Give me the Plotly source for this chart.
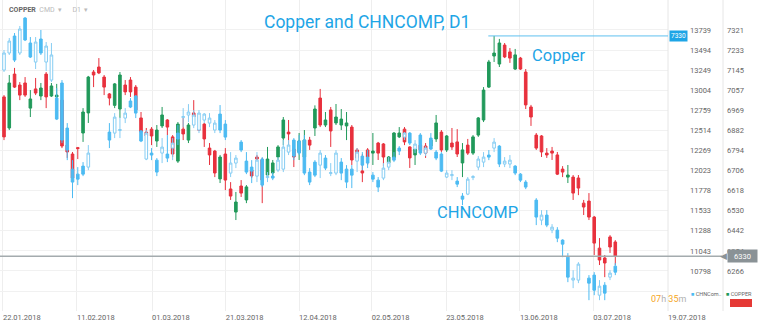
import plotly.graph_objects as go

# ---------------- data ----------------
idx = list(range(117))

chn_open = [13250, 13458, 13665, 13458, 13885, 13580, 13348, 13629, 13348, 13128,
            12908, 13092, 12542, 12041, 11980, 12078, 12066, None, None, None,
            12493, 12481, 12512, 12664, 12872, 12933, 12506, 12164, 12237, 12151,
            12237, 12225, 12298, 12481, 12670, 12701, 12579, 12518, 12640, 12603,
            12518, 12713, 12591, 11993, 12115, 12371, 12139, 12066, 11956, 12164,
            11938, 11956, 12029, 12041, 12249, 12396, 12384, 12396, 12005, 12127,
            12090, 12176, 11987, 11993, 12127, 12041, 12041, 12139, 12200, 12188,
            11968, 11907, 11932, 12066, 12188, 12298, 12432, 12481, 12286, 12457,
            12237, 12420, 12249, 12225, 11944, 11962, 11895, 11712, 11736, 11938,
            12066, 12127, 12213, 12298, 12322, 12103, 12103, 12078, 11980, 11883,
            None, 11663, 11419, 11480, 11297, 11297, 11175, 10967, 10687, 10687,
            None, 10711, 10748, 10503, 10625, 10723, 10857]
chn_high = [13495, 13641, 13702, 13788, 13897, 13653, 13653, 13739, 13592, 13580,
            13030, 13128, 12603, 12151, 12066, 12127, 12335, None, None, None,
            12603, 12725, 12676, 12786, 12908, 12945, 12518, 12518, 12298, 12176,
            12420, 12457, 12420, 12579, 12786, 12835, 12762, 12762, 12725, 12725,
            12640, 12823, 12640, 12249, 12213, 12396, 12249, 12151, 12249, 12188,
            12005, 12005, 12188, 12396, 12396, 12420, 12457, 12457, 12054, 12151,
            12274, 12213, 12115, 12274, 12176, 12090, 12090, 12298, 12249, 12274,
            12005, 11944, 12115, 12188, 12249, 12322, 12493, 12493, 12396, 12481,
            12322, 12481, 12274, 12249, 12029, 12029, 11944, 11749, 11944, 11968,
            12200, 12249, 12274, 12420, 12335, 12188, 12213, 12090, 11993, 11907,
            None, 11687, 11541, 11541, 11370, 11333, 11185, 11016, 10808, 10906,
            None, 10748, 10784, 10687, 10662, 10808, 10894]
chn_low = [13226, 13434, 13348, 13434, 13604, 13397, 13263, 13434, 13238, 13104,
           12640, 12359, 12151, 11687, 11846, 11956, 12029, None, None, None,
           12298, 12420, 12420, 12603, 12786, 12664, 12371, 12151, 12151, 11956,
           12115, 12127, 12151, 12335, 12554, 12615, 12542, 12481, 12603, 12554,
           12481, 12481, 12396, 11944, 12054, 12249, 11980, 11871, 11883, 11822,
           11883, 11907, 12005, 12005, 12213, 12151, 12213, 11968, 11846, 11944,
           11932, 12029, 11956, 11968, 11907, 11810, 11810, 12005, 12029, 12054,
           11883, 11761, 11907, 12029, 12127, 12213, 12396, 12335, 12237, 12213,
           12200, 12274, 12151, 12005, 11932, 11907, 11822, 11602, 11724, 11907,
           12029, 12066, 12151, 12249, 12066, 12066, 12054, 11968, 11883, 11797,
           None, 11358, 11358, 11333, 11260, 11150, 10967, 10662, 10589, 10650,
           None, 10442, 10503, 10442, 10442, 10687, 10748]
chn_close = [13458, 13604, 13372, 13751, 13617, 13409, 13592, 13458, 13543, 13434,
             12652, 12396, 12274, 11883, 11919, 11980, 12237, None, None, None,
             12396, 12676, 12524, 12725, 12799, 12725, 12384, 12481, 12213, 12005,
             12310, 12176, 12359, 12408, 12683, 12738, 12701, 12725, 12713, 12664,
             12603, 12518, 12432, 12115, 12176, 12274, 12005, 12017, 12151, 11846,
             11950, 11932, 12151, 12310, 12335, 12200, 12237, 11993, 11883, 11968,
             12237, 12054, 11999, 12237, 11993, 11883, 11968, 12249, 12090, 12115,
             11919, 11822, 12054, 12127, 12151, 12261, 12481, 12359, 12347, 12237,
             12298, 12286, 12176, 12017, 11993, 11974, 11858, 11675, 11919, 11950,
             12164, 12188, 12188, 12371, 12103, 12139, 12151, 11993, 11907, 11822,
             None, 11456, 11480, 11358, 11333, 11199, 11126, 10723, 10711, 10882,
             None, 10650, 10564, 10613, 10528, 10772, 10784]

cu_open = [7028, 6892, 7128, 7080, 7089, 6979, 7063, 7032, 7128, 7032,
           7028, 7014, 6817, 6778, 6806, 6870, 6958, 7137, 7159, 7115,
           7041, 6991, 6975, 7080, 7102, 7071, 6936, 6874, 6887, 6835,
           6901, 6927, 6853, 6747, 6887, 6839, 6958, 6887, 6909, 6804,
           6791, 6669, 6778, 6625, 6524, 6638, 6577, 6708, 6765, 6752,
           6686, 6695, 6765, 6848, 6874, 6800, 6787, 6765, 6839, 6892,
           7023, 6905, 6971, 6914, 6905, 6901, 6896, 6796, 6704, 6796,
           6782, 6826, 6822, 6739, 6761, 6853, 6887, 6809, 6774, 6817,
           6813, 6813, 6844, 6874, 6796, 6826, 6831, 6739, 6817, 6782,
           6861, 6927, 7071, 7207, 7172, 7255, 7225, 7150, 7198, 7137,
           6984, 6861, 6857, 6782, 6791, 6774, 6712, 6677, 6677, 6673,
           6563, 6572, 6502, 6366, 6323, 6415, 6393]
cu_high = [7036, 7124, 7155, 7093, 7115, 7058, 7111, 7089, 7137, 7089,
           7085, 7023, 6839, 6787, 6809, 6979, 7120, 7146, 7198, 7124,
           7045, 7089, 7137, 7102, 7115, 7080, 6962, 6892, 6896, 6905,
           6984, 6931, 6861, 6918, 6936, 6914, 7014, 6896, 6914, 6826,
           6796, 6774, 6804, 6655, 6612, 6664, 6642, 6717, 6774, 6761,
           6809, 6752, 6817, 6940, 6927, 6839, 6870, 6883, 6853, 6991,
           7063, 6962, 6984, 6997, 6975, 6962, 6905, 6804, 6778, 6804,
           6870, 6831, 6826, 6769, 6874, 6896, 6896, 6812, 6809, 6826,
           6826, 6848, 6949, 6883, 6861, 6892, 6887, 6826, 6844, 6861,
           6940, 7071, 7190, 7295, 7282, 7264, 7242, 7238, 7203, 7150,
           6993, 6870, 6861, 6804, 6809, 6787, 6725, 6730, 6686, 6686,
           6577, 6607, 6507, 6410, 6336, 6423, 6401]
cu_low = [6839, 6883, 7067, 7014, 7028, 6940, 7036, 7014, 6979, 7028,
          7014, 6804, 6761, 6664, 6756, 6831, 6914, 7071, 7128, 7036,
          6991, 6979, 6936, 7036, 7028, 6962, 6839, 6853, 6817, 6809,
          6892, 6861, 6765, 6739, 6839, 6826, 6936, 6879, 6809, 6730,
          6677, 6651, 6620, 6577, 6489, 6590, 6563, 6673, 6752, 6563,
          6677, 6673, 6752, 6817, 6804, 6721, 6752, 6730, 6796, 6857,
          6896, 6896, 6809, 6905, 6883, 6839, 6730, 6752, 6655, 6730,
          6730, 6752, 6725, 6734, 6752, 6848, 6817, 6717, 6730, 6787,
          6761, 6804, 6831, 6787, 6787, 6796, 6765, 6677, 6774, 6774,
          6853, 6918, 7067, 7181, 7159, 7198, 7177, 7146, 7146, 6975,
          6901, 6796, 6765, 6761, 6752, 6686, 6677, 6651, 6577, 6598,
          6511, 6489, 6336, 6292, 6239, 6345, 6292]
cu_close = [6853, 7089, 7071, 7036, 7036, 7019, 7045, 7067, 7028, 7076,
            7036, 6813, 6787, 6673, 6802, 6962, 7115, 7124, 7133, 7071,
            7023, 7085, 7124, 7050, 7050, 6971, 6874, 6857, 6857, 6883,
            6949, 6896, 6778, 6909, 6866, 6905, 6940, 6883, 6844, 6774,
            6695, 6765, 6664, 6594, 6568, 6607, 6634, 6682, 6756, 6664,
            6756, 6739, 6809, 6927, 6866, 6765, 6835, 6839, 6817, 6975,
            6905, 6927, 6879, 6940, 6931, 6914, 6752, 6761, 6695, 6765,
            6791, 6782, 6765, 6765, 6870, 6870, 6831, 6761, 6800, 6796,
            6782, 6839, 6914, 6796, 6857, 6809, 6778, 6796, 6782, 6853,
            6936, 7058, 7181, 7220, 7264, 7203, 7198, 7212, 7150, 6993,
            6940, 6804, 6787, 6774, 6782, 6690, 6699, 6686, 6607, 6629,
            6546, 6502, 6388, 6314, 6301, 6371, 6331]

date_labels = ["22.01.2018", "11.02.2018", "01.03.2018", "21.03.2018", "12.04.2018",
               "02.05.2018", "23.05.2018", "13.06.2018", "03.07.2018", "19.07.2018"]
date_pos = [-0.2, 13.85, 28.1, 42.1, 56.0, 69.8, 83.9, 97.9, 111.8, 126.0]

chn_ticks = [13739, 13494, 13249, 13004, 12759, 12514, 12269, 12023, 11778, 11533, 11288, 11043, 10798, 10553]
cu_ticks = [7321, 7233, 7145, 7057, 6969, 6882, 6794, 6706, 6618, 6530, 6442, 6354, 6266, 6178]

last_price = 6330
peak_label = "7330"

# ---------------- figure ----------------
W, H = 760, 325
PLOT_R = 668
PLOT_H = 311
FONT = "Roboto"
X_MAX = 126.0

fig = go.Figure()
fig.add_trace(go.Candlestick(
    x=idx, open=cu_open, high=cu_high, low=cu_low, close=cu_close, yaxis="y",
    increasing=dict(line=dict(color="#21995a", width=1), fillcolor="#21995a"),
    decreasing=dict(line=dict(color="#e8313d", width=1), fillcolor="#e8313d"),
    whiskerwidth=0, name="COPPER", hoverinfo="skip"))
fig.add_trace(go.Candlestick(
    x=idx, open=chn_open, high=chn_high, low=chn_low, close=chn_close, yaxis="y2",
    increasing=dict(line=dict(color="#86cdf3", width=1), fillcolor="#ffffff"),
    decreasing=dict(line=dict(color="#4dbbf2", width=1), fillcolor="#4dbbf2"),
    whiskerwidth=0, name="CHNCOMP", hoverinfo="skip"))

tickfont = dict(family=FONT, size=7.5, color="#666666")
fig.update_layout(
    width=W, height=H, margin=dict(l=0, r=0, t=0, b=H - PLOT_H, autoexpand=False),
    paper_bgcolor="white", plot_bgcolor="white", showlegend=False,
    font=dict(family=FONT),
    xaxis=dict(domain=[0, PLOT_R / W], range=[-0.76, X_MAX], tickvals=date_pos, ticktext=date_labels,
               ticklabelposition="outside right", ticks="", showgrid=True, gridcolor="#eeeeee",
               zeroline=False, showline=False, tickfont=tickfont, automargin=False,
               rangeslider=dict(visible=False)),
    yaxis=dict(range=[6090.8, 7452.3], tickvals=cu_ticks,
               ticktext=[str(v) for v in cu_ticks[:-1]] + [""],
               side="right", anchor="free", position=723 / W, showgrid=True, gridcolor="#f1f1f1",
               zeroline=False, ticks="", tickfont=tickfont, ticklabelstandoff=3, automargin=False),
    yaxis2=dict(range=[10310, 14105], tickvals=chn_ticks,
                ticktext=[str(v) for v in chn_ticks[:-1]] + [""],
                overlaying="y", side="right", anchor="x", showgrid=False, zeroline=False,
                ticks="", tickfont=tickfont, ticklabelstandoff=21, automargin=False),
)

shapes = [
    dict(type="line", xref="paper", yref="paper", x0=PLOT_R / W, x1=PLOT_R / W, y0=0, y1=1,
         line=dict(color="#e6e6e6", width=1)),
    dict(type="line", xref="paper", yref="paper", x0=723 / W, x1=723 / W, y0=0, y1=1,
         line=dict(color="#e6e6e6", width=1)),
    dict(type="line", xref="paper", yref="y", x0=0, x1=722 / W, y0=last_price, y1=last_price,
         line=dict(color="#a4abae", width=1.5)),
]
imax = max(range(len(cu_high)), key=lambda i: cu_high[i])
peak = cu_high[imax]
shapes.append(dict(type="line", xref="x", yref="y", x0=imax - 1.1, x1=X_MAX, y0=peak, y1=peak,
                   line=dict(color="#5ec0ef", width=1)))
shapes.append(dict(type="rect", xref="paper", yref="paper", x0=730 / W, x1=752 / W,
                   y0=1 - 307 / PLOT_H, y1=1 - 299 / PLOT_H, fillcolor="#e53935", line=dict(width=0)))
fig.update_layout(shapes=shapes)


def py(pix):
    return 1 - pix / PLOT_H


ann = []
ann.append(dict(text="Copper and CHNCOMP, D1", x=367 / W, y=py(22)))
ann[-1]["font"] = dict(family=FONT, size=17.5, color="#1ea5e6")
ann.append(dict(text="Copper", x=558 / W, y=py(55), font=dict(family=FONT, size=16.5, color="#1ea5e6")))
ann.append(dict(text="CHNCOMP", x=478 / W, y=py(212), font=dict(family=FONT, size=16.5, color="#1ea5e6")))
ann.append(dict(text="<b>COPPER</b>  <span style='color:#bbbbbb'>CMD  ▾      D1  ▾</span>",
                x=7 / W, y=py(10), xanchor="left", font=dict(family=FONT, size=7, color="#666666")))
ann.append(dict(text="<span style='color:#4dbbf2'>■</span> CHNCom..", x=689 / W, y=py(294),
                xanchor="left", font=dict(family=FONT, size=5.5, color="#666666")))
ann.append(dict(text="<span style='color:#21995a'>■</span> COPPER", x=724 / W, y=py(294),
                xanchor="left", font=dict(family=FONT, size=5.5, color="#666666")))
ann.append(dict(text="<span style='color:#f5a623'>07</span>h <span style='color:#f5a623'>35</span>m",
                x=688 / W, y=py(299), xanchor="right", font=dict(family=FONT, size=9, color="#b0b0b0")))
for a in ann:
    a.setdefault("xanchor", "center")
    a.update(xref="paper", yref="paper", yanchor="middle", showarrow=False)

ann.append(dict(text=peak_label, x=669 / W, y=peak, xref="paper", yref="y", xanchor="left",
                yanchor="middle", showarrow=False, bgcolor="#1ea5e6", borderpad=1,
                font=dict(family=FONT, size=6.5, color="#ffffff")))
ann.append(dict(text="◀", x=729 / W, y=last_price, xref="paper", yref="y", xanchor="right",
                yanchor="middle", showarrow=False, font=dict(size=9, color="#8a9296")))
ann.append(dict(text=str(last_price), x=727 / W, y=last_price, xref="paper", yref="y", xanchor="left",
                yanchor="middle", showarrow=False, bgcolor="#8a9296", borderpad=1.5, width=26,
                font=dict(family=FONT, size=7.5, color="#ffffff")))
fig.update_layout(annotations=ann)

fig.write_html("out.html")
